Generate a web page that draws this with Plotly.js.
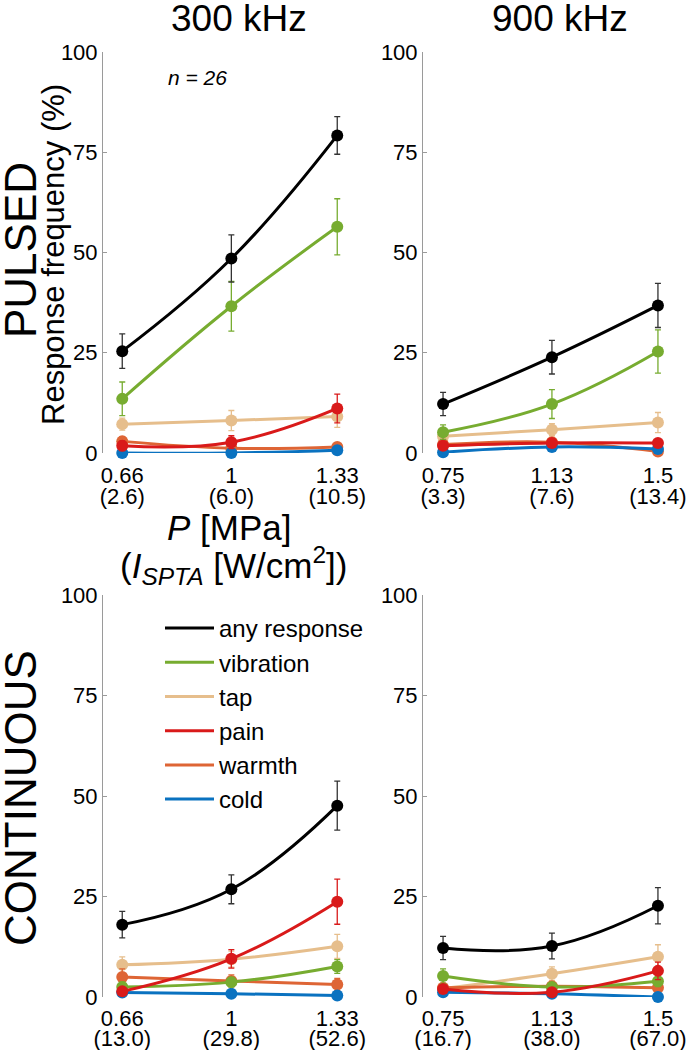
<!DOCTYPE html>
<html><head><meta charset="utf-8">
<script src="https://cdn.plot.ly/plotly-3.0.1.min.js"></script>
<style>html,body{margin:0;padding:0;background:#fff}</style>
</head><body><div id="chart" style="width:694px;height:1050px"></div>
<script>
const categories = ["any response", "vibration", "tap", "pain", "warmth", "cold"];
const colors = ["#000000", "#77AC30", "#E6BE8C", "#D91A1A", "#DE6535", "#0A72C0"];
const errColors = ["#333333", "#77AC30", "#E6BE8C", "#D91A1A", "#DE6535", "#0A72C0"];

const x300 = [0.66, 1, 1.33];
const x900 = [0.75, 1.13, 1.5];
// tick labels: pressure [MPa] (first line) and I_SPTA [W/cm2] (second line)
const pLabels300 = ["0.66", "1", "1.33"];
const pLabels900 = ["0.75", "1.13", "1.5"];
const iLabelsPulsed300 = ["(2.6)", "(6.0)", "(10.5)"];
const iLabelsPulsed900 = ["(3.3)", "(7.6)", "(13.4)"];
const iLabelsCont300 = ["(13.0)", "(29.8)", "(52.6)"];
const iLabelsCont900 = ["(16.7)", "(38.0)", "(67.0)"];

// Pulsed, 300 kHz  (order: any, vibration, tap, pain, warmth, cold)
const pulsed300 = [[25.4, 48.5, 79.2], [13.5, 36.6, 56.4], [7.2, 8.1, 9.1], [1.8, 2.7, 11.1], [2.9, 1.2, 1.5], [0, 0, 0.7]];
const pulsed300Err = [[4.3, 5.9, 4.7], [4.2, 6.2, 7.0], [1.5, 2.5, 2.7], [1.2, 1.6, 3.6], [1.2, 0.8, 0.8], [0, 0, 0.5]];
// Pulsed, 900 kHz
const pulsed900 = [[12.2, 23.9, 36.8], [5.2, 12.2, 25.3], [4.2, 5.8, 7.6], [1.8, 2.5, 2.5], [2.1, 2.7, 0.4], [0.2, 1.5, 1.0]];
const pulsed900Err = [[2.9, 4.2, 5.5], [1.8, 3.6, 5.4], [1.2, 1.5, 2.5], [0.8, 0.8, 0.8], [0.8, 0.8, 0.4], [0.2, 0.8, 0.6]];
// Continuous, 300 kHz
const cont300 = [[18.0, 26.8, 47.6], [2.5, 3.7, 7.6], [8.0, 9.4, 12.6], [1.4, 9.5, 23.7], [5.0, 4.0, 3.1], [1.1, 0.8, 0.4]];
const cont300Err = [[3.3, 3.6, 6.1], [1.2, 1.2, 1.7], [2.0, 2.0, 3.0], [0.8, 2.3, 5.6], [2.0, 1.5, 1.5], [0.5, 0.5, 0.3]];
// Continuous, 900 kHz
const cont900 = [[12.2, 12.7, 22.7], [5.2, 2.5, 3.9], [2.1, 5.8, 10.0], [2.0, 1.2, 6.5], [2.3, 2.7, 2.3], [1.2, 0.8, 0.0]];
const cont900Err = [[2.9, 3.2, 4.5], [1.8, 0.8, 1.3], [0.8, 1.7, 3.0], [0.8, 0.6, 2.2], [0.8, 0.8, 0.8], [0.5, 0.4, 0]];

const yTicks = [0, 25, 50, 75, 100];
const W = 694, H = 1050;
const FONT = "Liberation Sans, Arial, Helvetica, sans-serif";

const drawOrder = [2, 4, 5, 1, 3, 0];
const traces = [];
function addPanel(xs, vals, errs, xa, ya, xa2) {
  drawOrder.forEach(i => {
    traces.push({
      x: xs, y: vals[i], xaxis: xa, yaxis: ya, type: "scatter", mode: "lines+markers",
      line: {color: colors[i], width: 3, shape: "spline", smoothing: 1.2},
      marker: {color: colors[i], size: 12},
      error_y: {type: "data", array: errs[i], visible: true, color: errColors[i], thickness: 1.3, width: 3},
      cliponaxis: false, showlegend: false, hoverinfo: "skip"
    });
  });
  // invisible carrier so the second tick-label row (intensity) axis gets drawn
  traces.push({x: xs, y: vals[0], xaxis: xa2, yaxis: ya, type: "scatter", mode: "markers",
    marker: {opacity: 0, size: 1}, showlegend: false, hoverinfo: "skip"});
}
addPanel(x300, pulsed300, pulsed300Err, "x", "y", "x5");
addPanel(x900, pulsed900, pulsed900Err, "x2", "y2", "x6");
addPanel(x300, cont300, cont300Err, "x3", "y3", "x7");
addPanel(x900, cont900, cont900Err, "x4", "y4", "x8");
// legend entries (lines only)
categories.forEach((c, i) => {
  traces.push({x: [null], y: [null], xaxis: "x3", yaxis: "y3", type: "scatter", mode: "lines",
    name: c, line: {color: colors[i], width: 3}, showlegend: true});
});

function px(v) { return v / W; }
function py(v) { return 1 - v / H; }

function yaxis(top, bottom, anchor) {
  return {
    domain: [py(bottom), py(top)], range: [0, 100], tickvals: yTicks, ticktext: yTicks.map(String), anchor: anchor,
    showline: true, linecolor: "#9a9a9a", linewidth: 1, ticks: "inside", ticklen: 4, tickcolor: "#9a9a9a",
    showgrid: false, zeroline: false, tickfont: {family: FONT, size: 22, color: "#000"}, fixedrange: true
  };
}
function xaxis(left, right, range, tv, tt, anchor, standoff, overlay) {
  const a = {
    range: range, tickvals: tv, ticktext: tt, anchor: anchor,
    showline: false, ticks: "", showgrid: false, zeroline: false, side: "bottom",
    ticklabelstandoff: standoff,
    tickfont: {family: FONT, size: 22, color: "#000"}, fixedrange: true
  };
  if (overlay) a.overlaying = overlay; else a.domain = [px(left), px(right)];
  return a;
}
const rangeL = [0.60, 1.39], rangeR = [0.68, 1.57];

const layout = {
  width: W, height: H, margin: {l: 0, r: 0, t: 0, b: 0},
  paper_bgcolor: "#fff", plot_bgcolor: "rgba(0,0,0,0)",
  font: {family: FONT, color: "#000"},
  showlegend: true,
  legend: {x: px(160), y: py(606), xanchor: "left", yanchor: "top", bgcolor: "rgba(0,0,0,0)",
    font: {family: FONT, size: 24, color: "#000"}, tracegroupgap: 0, itemwidth: 49},
  xaxis: xaxis(103, 356.5, rangeL, x300, pLabels300, "y", 7),
  yaxis: yaxis(52, 453, "x"),
  xaxis2: xaxis(423, 678, rangeR, x900, pLabels900, "y2", 7),
  yaxis2: yaxis(52, 453, "x2"),
  xaxis3: xaxis(103, 356.5, rangeL, x300, pLabels300, "y3", 6),
  yaxis3: yaxis(595, 997, "x3"),
  xaxis4: xaxis(423, 678, rangeR, x900, pLabels900, "y4", 6),
  yaxis4: yaxis(595, 997, "x4"),
  xaxis5: xaxis(0, 0, rangeL, x300, iLabelsPulsed300, "y", 28, "x"),
  xaxis6: xaxis(0, 0, rangeR, x900, iLabelsPulsed900, "y2", 28, "x2"),
  xaxis7: xaxis(0, 0, rangeL, x300, iLabelsCont300, "y3", 26, "x3"),
  xaxis8: xaxis(0, 0, rangeR, x900, iLabelsCont900, "y4", 26, "x4"),
  annotations: [
    {text: "300 kHz", x: px(239), y: py(19), xref: "paper", yref: "paper", showarrow: false, font: {size: 37}, xanchor: "center", yanchor: "middle"},
    {text: "900 kHz", x: px(560), y: py(19), xref: "paper", yref: "paper", showarrow: false, font: {size: 37}, xanchor: "center", yanchor: "middle"},
    {text: "PULSED", x: px(20), y: py(250), xref: "paper", yref: "paper", showarrow: false, font: {size: 44}, textangle: -90, xanchor: "center", yanchor: "middle"},
    {text: "CONTINUOUS", x: px(20), y: py(798), xref: "paper", yref: "paper", showarrow: false, font: {size: 44}, textangle: -90, xanchor: "center", yanchor: "middle"},
    {text: "Response frequency (%)", x: px(53), y: py(255), xref: "paper", yref: "paper", showarrow: false, font: {size: 31}, textangle: -90, xanchor: "center", yanchor: "middle"},
    {text: "<i>n = 26</i>", x: px(197), y: py(77), xref: "paper", yref: "paper", showarrow: false, font: {size: 21}, xanchor: "center", yanchor: "middle"},
    {text: "<i>P</i> [MPa]", x: px(229), y: py(527), xref: "paper", yref: "paper", showarrow: false, font: {size: 35}, xanchor: "center", yanchor: "middle"},
    {text: "(<i>I</i><sub><i>SPTA</i></sub> [W/cm<sup>2</sup>])", x: px(234), y: py(565), xref: "paper", yref: "paper", showarrow: false, font: {size: 35}, xanchor: "center", yanchor: "middle"}
  ]
};

Plotly.newPlot("chart", traces, layout, {staticPlot: true, displayModeBar: false});
</script></body></html>
